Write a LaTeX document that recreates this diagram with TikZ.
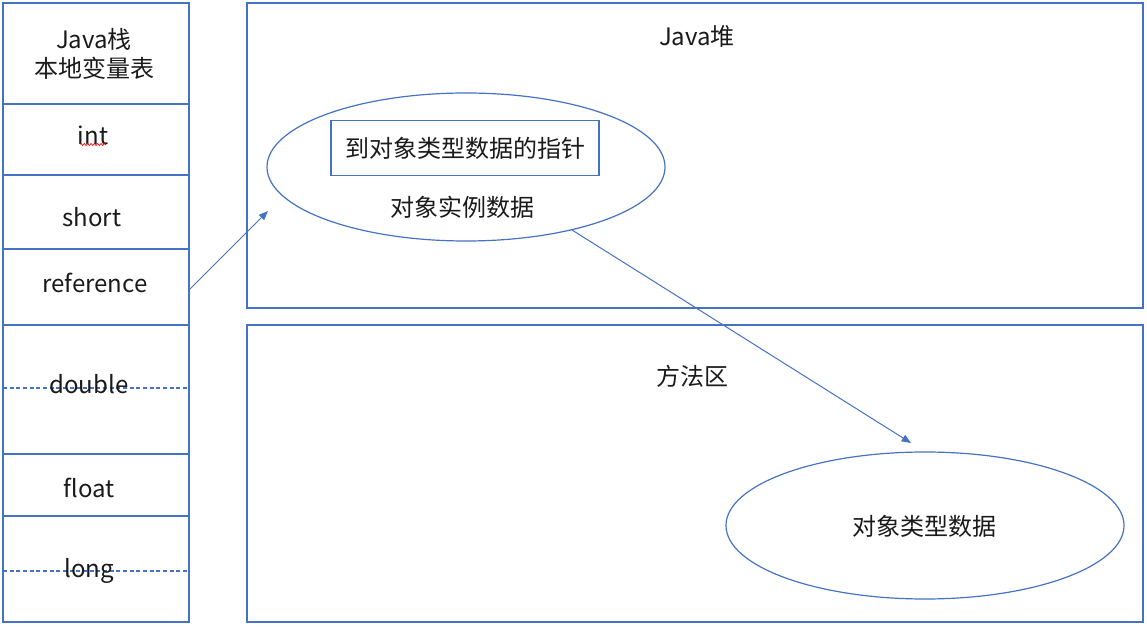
\documentclass[tikz,border=0pt]{standalone}
\usepackage{fontspec}
\setmainfont{Noto Sans CJK SC}
\usetikzlibrary{arrows.meta,decorations.pathmorphing}
\definecolor{lblue}{HTML}{4472C4}
\definecolor{txt}{HTML}{1A1A1A}
\tikzset{
  box/.style={draw=lblue,line width=0.9pt},
  lbl/.style={text=txt,font=\fontsize{18}{22}\selectfont,inner sep=0pt,align=center},
  dashline/.style={draw=lblue,line width=0.8pt,dash pattern=on 3pt off 2pt},
  conn/.style={draw=lblue,line width=0.75pt,-{Triangle[length=7pt,width=5.5pt]}},
}
\begin{document}
\begin{tikzpicture}[x=0.75pt,y=-0.75pt]
\useasboundingbox (0,0) rectangle (1147,627);
% left column
\draw[box] (3,3) rectangle (189,622);
\foreach \yy in {104,175,249,325,454,516} \draw[box] (3,\yy) -- (189,\yy);
\draw[dashline] (3,388) -- (189,388);
\draw[dashline] (3,571) -- (189,571);
\node[lbl] (stk) at (94,54) {Java栈\\本地变量表};
\node[lbl] (int) at (93,135) {int};
\draw[red,line width=0.5pt,decorate,decoration={snake,amplitude=0.8pt,segment length=2.5pt}] (80,144.5) -- (106,144.5);
\node[lbl] (short) at (92,217) {short};
\node[lbl] (ref) at (95,283) {reference};
\node[lbl] (dbl) at (89,384) {double};
\node[lbl] (flt) at (89,488) {float};
\node[lbl] (lng) at (89,571) {long};
% heap
\draw[box] (247,3) rectangle (1143,308);
\node[lbl] (heap) at (697,36) {Java堆};
\draw[box] (466,167) ellipse [x radius=199, y radius=74];
\node[box,lbl,minimum width=268*0.75pt,minimum height=55*0.75pt] (ptr) at (465,148) {到对象类型数据的指针};
\node[lbl] (inst) at (462,207) {对象实例数据};
% method area
\draw[box] (247,325) rectangle (1143,622);
\node[lbl] (meth) at (692,376) {方法区};
\draw[box] (925,525.5) ellipse [x radius=199, y radius=73.5];
\node[lbl] (tdat) at (924,526) {对象类型数据};
% connectors
\coordinate (a1s) at (189,290);
\coordinate (a1e) at (268,211);
\coordinate (a2s) at (572,230);
\coordinate (a2e) at (911,443);
\draw[conn] (a1s) -- (a1e);
\draw[conn] (a2s) -- (a2e);
\end{tikzpicture}
\end{document}
